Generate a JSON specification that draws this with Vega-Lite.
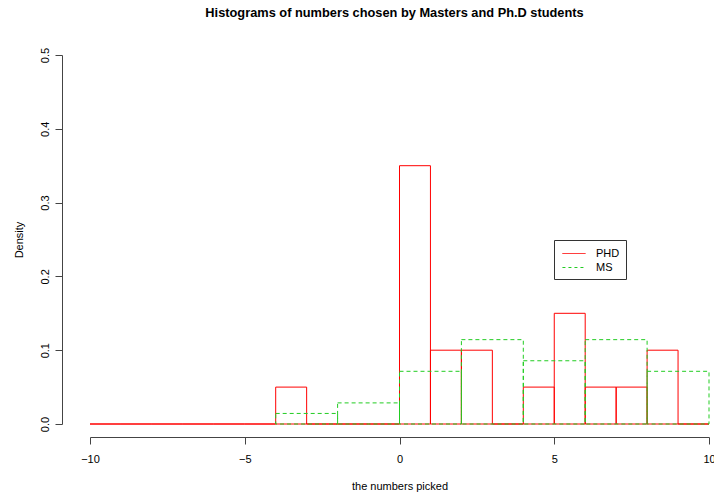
{
  "$schema": "https://vega.github.io/schema/vega-lite/v6.json",
  "autosize": "none",
  "width": 619,
  "height": 369,
  "padding": {"left": 90, "top": 55, "right": 5, "bottom": 71},
  "background": "white",
  "title": {
    "text": "Histograms of numbers chosen by Masters and Ph.D students",
    "font": "Liberation Sans",
    "fontSize": 12.8,
    "fontWeight": "bold",
    "color": "black",
    "anchor": "middle",
    "dx": -5,
    "offset": 28
  },
  "config": {
    "view": {"stroke": null},
    "font": "Liberation Sans",
    "axis": {
      "grid": false,
      "domainColor": "#444",
      "tickColor": "#444",
      "labelColor": "black",
      "titleColor": "black",
      "labelFont": "Liberation Sans",
      "titleFont": "Liberation Sans",
      "labelFontSize": 11,
      "titleFontSize": 11,
      "titleFontWeight": "normal",
      "tickSize": 7
    }
  },
  "data": {
    "values": [
      {"series": "PHD", "x0": -10, "x1": -9, "density": 0},
      {"series": "PHD", "x0": -9, "x1": -8, "density": 0},
      {"series": "PHD", "x0": -8, "x1": -7, "density": 0},
      {"series": "PHD", "x0": -7, "x1": -6, "density": 0},
      {"series": "PHD", "x0": -6, "x1": -5, "density": 0},
      {"series": "PHD", "x0": -5, "x1": -4, "density": 0},
      {"series": "PHD", "x0": -4, "x1": -3, "density": 0.05},
      {"series": "PHD", "x0": -3, "x1": -2, "density": 0},
      {"series": "PHD", "x0": -2, "x1": -1, "density": 0},
      {"series": "PHD", "x0": -1, "x1": 0, "density": 0},
      {"series": "PHD", "x0": 0, "x1": 1, "density": 0.35},
      {"series": "PHD", "x0": 1, "x1": 2, "density": 0.1},
      {"series": "PHD", "x0": 2, "x1": 3, "density": 0.1},
      {"series": "PHD", "x0": 3, "x1": 4, "density": 0},
      {"series": "PHD", "x0": 4, "x1": 5, "density": 0.05},
      {"series": "PHD", "x0": 5, "x1": 6, "density": 0.15},
      {"series": "PHD", "x0": 6, "x1": 7, "density": 0.05},
      {"series": "PHD", "x0": 7, "x1": 8, "density": 0.05},
      {"series": "PHD", "x0": 8, "x1": 9, "density": 0.1},
      {"series": "PHD", "x0": 9, "x1": 10, "density": 0},
      {"series": "MS", "x0": -4, "x1": -2, "density": 0.0143},
      {"series": "MS", "x0": -2, "x1": 0, "density": 0.0286},
      {"series": "MS", "x0": 0, "x1": 2, "density": 0.0714},
      {"series": "MS", "x0": 2, "x1": 4, "density": 0.1143},
      {"series": "MS", "x0": 4, "x1": 6, "density": 0.0857},
      {"series": "MS", "x0": 6, "x1": 8, "density": 0.1143},
      {"series": "MS", "x0": 8, "x1": 10, "density": 0.0714}
    ]
  },
  "encoding": {
    "x": {
      "field": "x0", "type": "quantitative",
      "scale": {"domain": [-10, 10], "nice": false, "zero": false},
      "axis": {
        "values": [-10, -5, 0, 5, 10],
        "format": "d",
        "title": "the numbers picked",
        "offset": 13,
        "labelPadding": 9,
        "titlePadding": 16,
        "labelFlush": false
      }
    },
    "x2": {"field": "x1"},
    "y": {
      "field": "density", "type": "quantitative",
      "scale": {"domain": [0, 0.5], "nice": false},
      "axis": {
        "values": [0, 0.1, 0.2, 0.3, 0.4, 0.5],
        "format": ".1f",
        "title": "Density",
        "offset": 28,
        "labelAngle": 270,
        "labelAlign": "center",
        "labelBaseline": "bottom",
        "labelPadding": 5,
        "titlePadding": 15
      }
    },
    "y2": {"datum": 0}
  },
  "layer": [
    {
      "transform": [{"filter": "datum.series === 'PHD'"}],
      "mark": {"type": "rect", "filled": false, "strokeWidth": 1, "clip": false},
      "encoding": {
        "stroke": {
          "field": "series", "type": "nominal",
          "scale": {"domain": ["PHD", "MS"], "range": ["#ff0000", "#22cc22"]},
          "legend": {
            "title": null,
            "orient": "none",
            "legendX": 464,
            "legendY": 185,
            "symbolType": "M-1.65,0H1.65",
            "symbolSize": 196,
            "symbolOffset": 6.5,
            "symbolStrokeWidth": 1,
            "labelFontSize": 11,
            "labelFont": "Liberation Sans",
            "labelColor": "black",
            "strokeColor": "#333",
            "fillColor": "white",
            "padding": 6,
            "rowPadding": 1,
            "labelOffset": 14.5,
            "encode": {
              "symbols": {
                "update": {
                  "strokeDash": {"signal": "datum.value === 'MS' ? [3, 3] : [1, 0]"}
                }
              }
            }
          }
        }
      }
    },
    {
      "transform": [{"filter": "datum.series === 'MS'"}],
      "mark": {"type": "rect", "filled": false, "strokeWidth": 1, "strokeDash": [4, 3], "clip": false},
      "encoding": {
        "stroke": {"field": "series", "type": "nominal"}
      }
    }
  ]
}
